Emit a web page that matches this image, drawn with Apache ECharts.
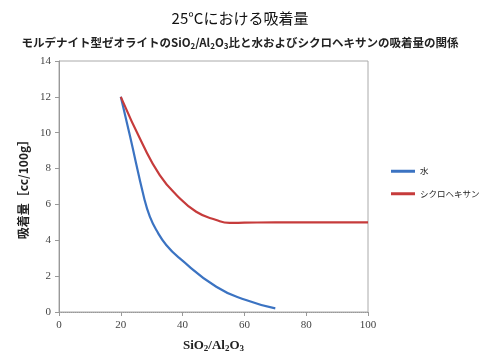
<!DOCTYPE html>
<html><head><meta charset="utf-8">
<script src="https://cdn.jsdelivr.net/npm/echarts@6/dist/echarts.min.js"></script>
<style>html,body{margin:0;padding:0;background:#fff}#c{width:480px;height:360px}</style>
</head><body><div id="c"></div>
<script>
const waterX = [20, 22.9, 27.7, 29.4, 31.5, 34.7, 39, 50.9, 60.5, 70];
const waterY = [12, 9.87, 6.25, 5.32, 4.57, 3.74, 3.0, 1.41, 0.67, 0.2];
const cycloX = [20, 27.2, 32.6, 38, 44.4, 50.9, 55.2, 60, 70, 80, 90, 100];
const cycloY = [12, 9.31, 7.64, 6.53, 5.59, 5.13, 4.97, 4.98, 5.0, 5.0, 5.0, 5.0];
const seriesNames = ['水', 'シクロヘキサン'];
const xTicks = [0, 20, 40, 60, 80, 100];
const yTicks = [0, 2, 4, 6, 8, 10, 12, 14];

const serif = '"Liberation Serif","DejaVu Serif",serif';
const jp = '"Noto Sans CJK JP",sans-serif';
const chart = echarts.init(document.getElementById('c'));
chart.setOption({
  animation: false,
  backgroundColor: '#fff',
  title: [{
    text: '25°Cにおける吸着量', left: 'center', top: 6,
    textStyle: { fontFamily: jp, fontSize: 15, fontWeight: 'normal', color: '#111' }
  }, {
    text: 'モルデナイト型ゼオライトのSiO{s|2}/Al{s|2}O{s|3}比と水およびシクロヘキサンの吸着量の関係',
    left: 'center', top: 31,
    textStyle: { fontFamily: jp, fontSize: 11.5, fontWeight: 'bold', color: '#222',
      rich: { s: { fontSize: 8, fontWeight: 'bold', verticalAlign: 'bottom', padding: [6, 0, 0, 0], fontFamily: jp, color: '#222' } } }
  }],
  legend: {
    orient: 'vertical', left: 386, top: 162, itemGap: 14,
    itemWidth: 24, itemHeight: 3, icon: 'rect',
    textStyle: { fontFamily: jp, fontSize: 8.5, color: '#222' },
    data: seriesNames
  },
  grid: { left: 59, right: 112, top: 61, bottom: 48, show: true, borderColor: '#aaa', borderWidth: 1 },
  xAxis: {
    type: 'value', min: xTicks[0], max: xTicks[xTicks.length - 1], interval: 20,
    name: 'SiO{s|2}/Al{s|2}O{s|3}', nameLocation: 'middle', nameGap: 26,
    nameTextStyle: { fontFamily: serif, fontSize: 13, fontWeight: 'bold', color: '#222',
      rich: { s: { fontFamily: serif, fontSize: 9, fontWeight: 'bold', padding: [6, 0, 0, 0] } } },
    axisLine: { lineStyle: { color: '#999', type: 'dotted' } },
    axisTick: { show: true, length: 4, lineStyle: { color: '#999' } },
    axisLabel: { fontFamily: serif, fontSize: 11, color: '#444', margin: 8 },
    splitLine: { show: false }
  },
  yAxis: {
    type: 'value', min: yTicks[0], max: yTicks[yTicks.length - 1], interval: 2,
    name: '吸着量［cc/100g］', nameLocation: 'middle', nameGap: 26, nameRotate: 90,
    nameTextStyle: { fontFamily: jp, fontSize: 12, fontWeight: 'bold', color: '#222' },
    axisLine: { show: true, lineStyle: { color: '#999' } },
    axisTick: { show: true, length: 4, inside: false, lineStyle: { color: '#999' } },
    axisLabel: { fontFamily: serif, fontSize: 11, color: '#444', margin: 8 },
    splitLine: { show: false }
  },
  series: [{
    name: seriesNames[0], type: 'line', smooth: 0.5, showSymbol: false,
    lineStyle: { color: '#3b73c2', width: 2.2 }, itemStyle: { color: '#3b73c2' },
    data: waterX.map((x, i) => [x, waterY[i]])
  }, {
    name: seriesNames[1], type: 'line', smooth: 0.5, showSymbol: false,
    lineStyle: { color: '#c63b3b', width: 2.2 }, itemStyle: { color: '#c63b3b' },
    data: cycloX.map((x, i) => [x, cycloY[i]])
  }]
});
</script></body></html>
